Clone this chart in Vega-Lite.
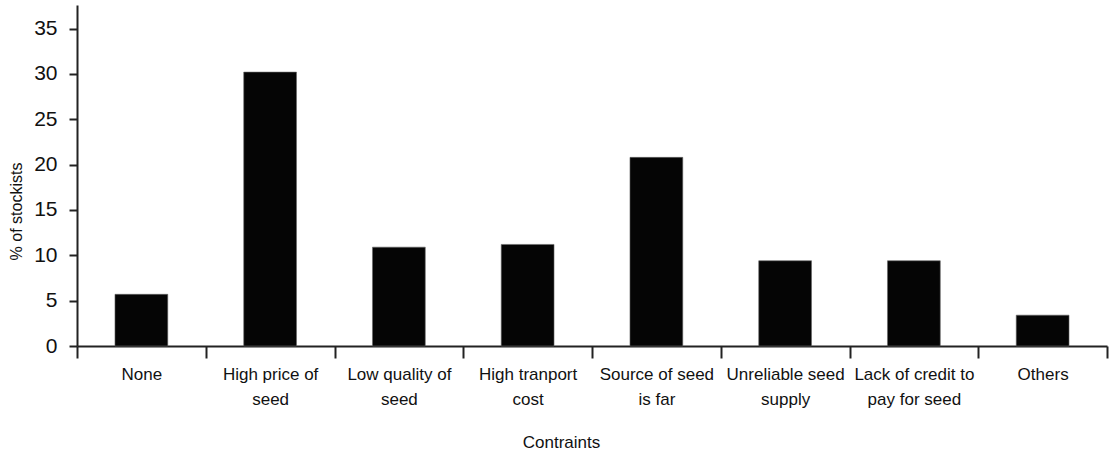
{
  "$schema": "https://vega.github.io/schema/vega-lite/v6.json",
  "width": 1030,
  "height": 341,
  "autosize": "none",
  "padding": {"left": 77, "top": 5, "right": 8, "bottom": 107},
  "background": "white",
  "config": {
    "view": {"stroke": null},
    "font": "Liberation Sans, Arial, sans-serif"
  },
  "data": {
    "values": [
      {"constraint": "None", "percent": 5.7},
      {"constraint": "High price of seed", "percent": 30.2},
      {"constraint": "Low quality of seed", "percent": 10.9},
      {"constraint": "High tranport cost", "percent": 11.2},
      {"constraint": "Source of seed is far", "percent": 20.8},
      {"constraint": "Unreliable seed supply", "percent": 9.4},
      {"constraint": "Lack of credit to pay for seed", "percent": 9.4},
      {"constraint": "Others", "percent": 3.4}
    ]
  },
  "mark": {"type": "bar", "width": {"band": 0.41}, "fill": "#050505", "stroke": "#666666", "strokeWidth": 0.6},
  "encoding": {
    "x": {
      "field": "constraint",
      "type": "nominal",
      "sort": null,
      "scale": {"paddingInner": 0, "paddingOuter": 0},
      "axis": {
        "title": "Contraints",
        "labelAngle": 0,
        "tickBand": "extent",
        "tickSize": 12,
        "tickWidth": 2,
        "tickColor": "#222222",
        "domainColor": "#222222",
        "domainWidth": 2,
        "labelFontSize": 17,
        "labelColor": "#111111",
        "labelPadding": 8,
        "labelLineHeight": 25,
        "labelExpr": "{'High price of seed': ['High price of', 'seed'], 'Low quality of seed': ['Low quality of', 'seed'], 'High tranport cost': ['High tranport', 'cost'], 'Source of seed is far': ['Source of seed', 'is far'], 'Unreliable seed supply': ['Unreliable seed', 'supply'], 'Lack of credit to pay for seed': ['Lack of credit to', 'pay for seed']}[datum.value] || datum.value",
        "titleFontSize": 17,
        "titleFontWeight": "normal",
        "titleColor": "#111111",
        "titleX": 484,
        "titleY": 101,
        "titleBaseline": "alphabetic"
      }
    },
    "y": {
      "field": "percent",
      "type": "quantitative",
      "scale": {"domain": [0, 37.6], "nice": false},
      "axis": {
        "title": "% of stockists",
        "values": [0, 5, 10, 15, 20, 25, 30, 35],
        "grid": false,
        "tickSize": 8,
        "tickWidth": 2,
        "tickColor": "#222222",
        "domainColor": "#222222",
        "domainWidth": 2,
        "labelFontSize": 21,
        "labelColor": "#111111",
        "labelPadding": 12,
        "titleFontSize": 16,
        "titleFontWeight": "normal",
        "titleColor": "#111111",
        "titleX": -56,
        "titleY": 206,
        "titleBaseline": "alphabetic"
      }
    }
  }
}
